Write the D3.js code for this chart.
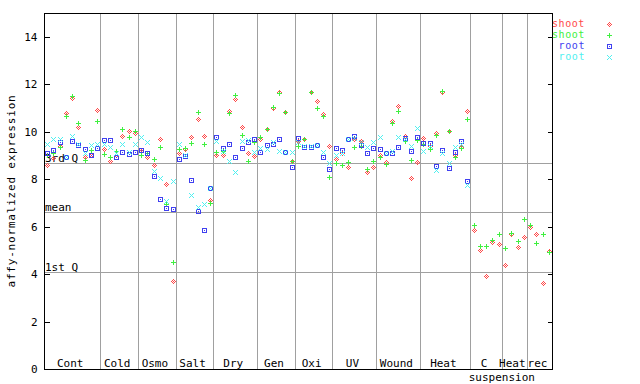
<!DOCTYPE html>
<html>
<head>
<meta charset="utf-8">
<script src="https://cdn.jsdelivr.net/npm/d3@7"></script>
<style>
	body { margin: 0; background: #fff; }
	svg text { font-family: "DejaVu Sans Mono", monospace; font-size: 11px; }
</style>
</head>
<body>
<div id="chart"></div>
<script>
"use strict";

var groupLabels = ["Cont", "Cold", "Osmo", "Salt", "Dry", "Gen", "Oxi", "UV", "Wound", "Heat", "C", "Heat", "rec"];
var groupSizes = [9, 6, 6, 6, 7, 6, 6, 7, 7, 8, 5, 4, 4];
var suspensionLabel = "suspension";

// one value per sample, groups in the order above
var shootRed = [
	8.6, 8.88, 9.4, 10.77, 11.41, 10.21, 8.92, 9.0, 10.91,
	9.26, 8.78, 9.0, 9.82, 10.01, 9.93,
	9.2, 8.92, 8.58, 9.68, 7.78, 3.71,
	9.09, 9.26, 9.76, 10.52, 9.82, 7.12,
	9.0, 9.0, 10.89, 11.36, 10.19, 9.09, 8.97,
	9.7, 10.11, 11.0, 11.66, 10.84, 8.75,
	9.61, 9.68, 11.66, 11.31, 10.73, 9.4,
	8.84, 9.12, 8.5, 9.68, 9.6, 8.3, 8.5,
	9.02, 8.72, 10.46, 11.08, 9.82, 8.04, 8.72,
	9.72, 9.4, 9.96, 11.66, 10.01, 9.02, 9.34, 10.87,
	5.86, 5.0, 3.92, 5.34, 5.25,
	4.38, 5.68, 5.13, 5.55,
	5.97, 5.68, 3.61, 4.99
];
var shootGreen = [
	9.0, 9.1, 9.37, 10.66, 11.5, 10.35, 8.81, 9.23, 10.44,
	9.06, 8.92, 9.2, 10.1, 9.76, 10.04,
	9.0, 9.1, 8.84, 9.34, 6.95, 4.5,
	9.26, 9.3, 9.51, 10.83, 9.48, 6.98,
	9.14, 9.17, 10.77, 11.55, 9.85, 8.78, 9.57,
	9.76, 10.11, 11.04, 11.62, 10.81, 8.75,
	9.4, 9.68, 11.66, 10.98, 10.66, 8.1,
	8.67, 8.58, 8.73, 9.34, 9.4, 8.41, 8.78,
	8.95, 8.64, 10.38, 10.89, 9.62, 8.81, 9.65,
	9.5, 9.26, 9.86, 11.7, 10.04, 8.95, 9.3, 10.52,
	6.07, 5.17, 5.17, 5.44, 5.69,
	5.1, 5.72, 5.39, 6.31,
	6.07, 5.32, 5.69, 4.93
];
var rootBlue = [
	9.12, 9.23, 9.57, 8.92, 9.62, 9.44, 9.26, 9.0, 9.3,
	9.65, 9.65, 8.92, 9.14, 9.06, 9.14,
	9.23, 9.09, 8.13, 7.18, 6.78, 6.76,
	8.84, 8.97, 7.96, 6.64, 5.84, 7.61,
	9.76, 9.33, 9.47, 8.94, 9.3, 9.55, 9.68,
	9.14, 9.44, 9.47, 9.68, 9.16, 8.5,
	9.72, 9.37, 9.37, 9.44, 8.95, 8.41,
	9.3, 9.23, 9.7, 9.82, 9.44, 9.09, 9.3,
	9.26, 9.09, 9.12, 9.34, 9.72, 9.19, 9.76,
	9.51, 9.51, 8.55, 9.23, 8.46, 9.16, 9.62, 7.92,
	null, null, null, null, null,
	null, null, null, null,
	null, null, null, null
];
var rootCyan = [
	9.48, 9.68, 9.68, 8.95, 9.82, 9.5, 9.12, 9.44, 9.48,
	9.5, 9.37, 9.1, 9.5, 9.15, 9.48,
	9.79, 9.57, 8.36, 8.04, 7.09, 7.92,
	9.48, 9.0, 7.32, 6.84, 6.95, 7.61,
	9.59, 9.2, 8.75, 8.29, 9.59, 9.65, 9.15,
	9.3, 9.26, 9.58, 9.19, 9.16, 9.16,
	9.55, 9.4, 9.4, 9.44, 9.16, 8.67,
	9.0, 9.12, 9.7, 9.75, 9.58, 9.37, 9.58,
	9.76, 9.1, 9.2, 9.76, 9.68, 9.4, 10.14,
	9.2, 9.4, 8.39, 9.1, 8.67, 9.37, 9.5, 7.74,
	null, null, null, null, null,
	null, null, null, null,
	null, null, null, null
];

var seriesNames = ["shoot", "shoot", "root", "root"];
var seriesColors = ["#ff4848", "#40f040", "#4040f0", "#50f0f0"];
var seriesShapes = ["diamond", "plus", "square", "cross"];

var refLabels = ["3rd Q", "mean", "1st Q"];
var refValues = [8.67, 6.6, 4.07];
var yTicks = [0, 2, 4, 6, 8, 10, 12, 14];
var yTitle = "affy-normalized expression";

var chartWidth = 640,
	chartHeight = 384,
	margin = {
		top: 13,
		right: 88,
		bottom: 15,
		left: 44
	},
	plotRight = chartWidth - margin.right,
	plotBottom = chartHeight - margin.bottom,
	noSamples = d3.sum(groupSizes),
	gridColor = "#a0a0a0";

var x = d3.scaleLinear().domain([0, noSamples]).range([margin.left, plotRight]),
	y = d3.scaleLinear().domain([0, 15]).range([plotBottom, margin.top]);

function px(v) {
	return Math.round(v) + 0.5;
}

var svg = d3.select("#chart")
	.append("svg")
	.attr("width", chartWidth)
	.attr("height", chartHeight);

// group boundaries
var groupStarts = [0];
groupSizes.forEach(function(n, i) {
	groupStarts.push(groupStarts[i] + n);
});

svg.append("g")
	.selectAll("line")
	.data(groupStarts.slice(1, -1))
	.enter()
	.append("line")
	.attr("x1", function(d) { return px(x(d)); })
	.attr("x2", function(d) { return px(x(d)); })
	.attr("y1", margin.top)
	.attr("y2", plotBottom)
	.style("stroke", gridColor)
	.style("shape-rendering", "crispEdges");

// quartile / mean lines
var refG = svg.append("g")
	.selectAll("g")
	.data(refValues)
	.enter()
	.append("g");

refG.append("line")
	.attr("x1", margin.left)
	.attr("x2", plotRight)
	.attr("y1", function(d) { return px(y(d)); })
	.attr("y2", function(d) { return px(y(d)); })
	.style("stroke", gridColor)
	.style("shape-rendering", "crispEdges");

refG.append("text")
	.attr("x", margin.left + 1)
	.attr("y", function(d) { return Math.round(y(d)) - 1; })
	.text(function(d, i) { return refLabels[i]; });

// axes
svg.append("g")
	.attr("transform", "translate(" + px(margin.left) + ",0)")
	.call(d3.axisLeft(y).tickValues(yTicks).tickSizeInner(-5).tickSizeOuter(0).tickPadding(7))
	.call(function(g) {
		g.select(".domain").remove();
		g.selectAll("line").style("shape-rendering", "crispEdges");
		g.selectAll("text").style("font-size", "11px").style("font-family", "DejaVu Sans Mono, monospace");
	});

svg.append("g")
	.attr("transform", "translate(" + px(plotRight) + ",0)")
	.call(d3.axisRight(y).tickValues(yTicks).tickSizeInner(-5).tickSizeOuter(0).tickFormat(""))
	.call(function(g) {
		g.select(".domain").remove();
		g.selectAll("line").style("shape-rendering", "crispEdges");
	});

svg.append("rect")
	.attr("x", px(margin.left))
	.attr("y", px(margin.top))
	.attr("width", Math.round(plotRight) - Math.round(margin.left))
	.attr("height", Math.round(plotBottom) - Math.round(margin.top))
	.style("fill", "none")
	.style("stroke", "#000")
	.style("shape-rendering", "crispEdges");

// group labels
svg.append("g")
	.selectAll("text")
	.data(groupLabels)
	.enter()
	.append("text")
	.attr("x", function(d, i) { return x(groupStarts[i] + groupSizes[i] / 2) - 2; })
	.attr("y", plotBottom - 2)
	.attr("text-anchor", "middle")
	.text(function(d) { return d; });

svg.append("text")
	.attr("x", x(groupStarts[11]))
	.attr("y", plotBottom + 12)
	.attr("text-anchor", "middle")
	.text(suspensionLabel);

svg.append("text")
	.attr("transform", "translate(15," + ((margin.top + plotBottom) / 2) + ") rotate(-90)")
	.attr("text-anchor", "middle")
	.style("letter-spacing", "0.8px")
	.text(yTitle);

// markers, drawn pixel by pixel like the original bitmap glyphs
var markerPixels = {
	diamond: [[0, -2], [-1, -1], [1, -1], [-2, 0], [0, 0], [2, 0], [-1, 1], [1, 1], [0, 2]],
	plus: [[0, -2], [0, -1], [-2, 0], [-1, 0], [0, 0], [1, 0], [2, 0], [0, 1], [0, 2]],
	square: [[-2, -2], [-1, -2], [0, -2], [1, -2], [2, -2], [-2, -1], [2, -1], [-2, 0], [0, 0], [2, 0],
		[-2, 1], [2, 1], [-2, 2], [-1, 2], [0, 2], [1, 2], [2, 2]],
	cross: [[-2, -2], [2, -2], [-1, -1], [1, -1], [0, 0], [-1, 1], [1, 1], [-2, 2], [2, 2]]
};

function marker(sel, shape, color) {
	sel.selectAll("rect")
		.data(markerPixels[shape])
		.enter()
		.append("rect")
		.attr("x", function(d) { return d[0]; })
		.attr("y", function(d) { return d[1]; })
		.attr("width", 1)
		.attr("height", 1);
	sel.style("fill", color)
		.style("shape-rendering", "crispEdges");
}

var allSeries = [shootRed, shootGreen, rootBlue, rootCyan];

allSeries.forEach(function(values, s) {
	var pts = svg.append("g")
		.attr("class", "series-" + s)
		.selectAll("g")
		.data(values.map(function(v, i) { return { i: i, v: v }; }).filter(function(d) { return d.v !== null; }))
		.enter()
		.append("g")
		.attr("transform", function(d) {
			return "translate(" + Math.round(x(d.i + 0.5)) + "," + Math.round(y(d.v)) + ")";
		});
	pts.each(function() {
		marker(d3.select(this), seriesShapes[s], seriesColors[s]);
	});
});

// legend
var legendY = d3.scaleLinear().domain([0, 1]).range([24, 35]);
var legend = svg.append("g")
	.selectAll("g")
	.data(seriesNames)
	.enter()
	.append("g");

legend.append("text")
	.attr("x", 585)
	.attr("y", function(d, i) { return legendY(i) + 3; })
	.attr("text-anchor", "end")
	.style("font-size", "10px")
	.style("letter-spacing", "0.6px")
	.style("fill", function(d, i) { return seriesColors[i]; })
	.text(function(d) { return d; });

legend.append("g")
	.attr("transform", function(d, i) { return "translate(609," + Math.round(legendY(i)) + ")"; })
	.each(function(d, i) {
		marker(d3.select(this), seriesShapes[i], seriesColors[i]);
	});
</script>
</body>
</html>
